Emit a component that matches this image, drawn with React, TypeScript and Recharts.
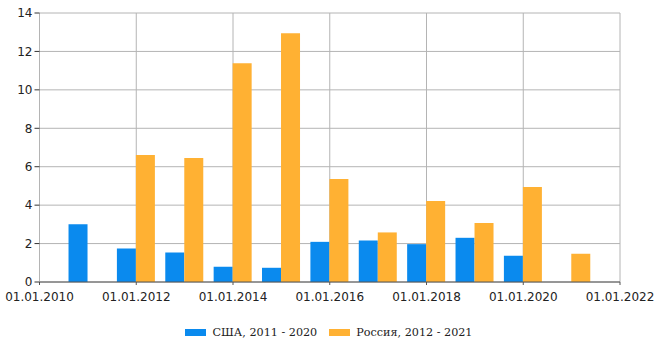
import { Bar, BarChart, CartesianGrid, Legend, XAxis, YAxis } from 'recharts';

// годы начала периодов (ось X — числовая, метки 01.01.ГГГГ)
const YEARS = [2011, 2012, 2013, 2014, 2015, 2016, 2017, 2018, 2019, 2020, 2021];
const USA = [3.0, 1.74, 1.54, 0.79, 0.74, 2.09, 2.16, 1.97, 2.3, 1.37, null];
const RUSSIA = [null, 6.61, 6.45, 11.38, 12.95, 5.36, 2.58, 4.22, 3.07, 4.95, 1.47];

const X_TICKS = [2010, 2012, 2014, 2016, 2018, 2020, 2022];
const Y_TICKS = [0, 2, 4, 6, 8, 10, 12, 14];

const SERIES = [
  { key: 'usa', label: 'США, 2011 - 2020', color: '#0a8aee' },
  { key: 'russia', label: 'Россия, 2012 - 2021', color: '#ffb133' },
];

const rows = YEARS.map((year, i) => ({ year, usa: USA[i], russia: RUSSIA[i] }));

const tick = { fill: '#222', fontSize: 12, fontFamily: '"DejaVu Sans", sans-serif' };

function LegendBox() {
  return (
    <div
      style={{
        height: 32,
        width: 658,
        display: 'flex',
        justifyContent: 'center',
        alignItems: 'center',
        paddingTop: 8,
        boxSizing: 'border-box',
        fontFamily: '"DejaVu Serif", serif',
        fontSize: 11.2,
        color: '#222',
        gap: 12,
      }}
    >
      {SERIES.map((s) => (
        <span key={s.key} style={{ display: 'flex', alignItems: 'center', gap: 6 }}>
          <span style={{ display: 'inline-block', width: 21, height: 7, background: s.color }} />
          {s.label}
        </span>
      ))}
    </div>
  );
}

export default function App() {
  return (
    <div style={{ position: 'absolute', left: 0, top: 0, width: 658, height: 344, background: '#fff' }}>
      <BarChart
        width={658}
        height={344}
        data={rows}
        margin={{ top: 13, right: 38, bottom: 0, left: 0 }}
        barGap={0}
        barCategoryGap="10%"
      >
        <CartesianGrid stroke="#b4b4b4" />
        <XAxis
          dataKey="year"
          type="number"
          domain={[2010, 2022]}
          ticks={X_TICKS}
          tickFormatter={(v: number) => `01.01.${v}`}
          tick={tick}
          tickSize={3}
          tickMargin={7}
          height={30}
          stroke="#555"
          interval={0}
          allowDataOverflow
        />
        <YAxis
          domain={[0, 14]}
          ticks={Y_TICKS}
          tick={tick}
          tickSize={5}
          tickMargin={2}
          width={39.5}
          axisLine={{ stroke: '#b4b4b4' }}
          tickLine={{ stroke: '#333' }}
          interval={0}
        />
        <Legend
          verticalAlign="bottom"
          height={32}
          wrapperStyle={{ left: 0, width: 658 }}
          content={() => <LegendBox />}
        />
        {SERIES.map((s) => (
          <Bar key={s.key} dataKey={s.key} name={s.label} fill={s.color} isAnimationActive={false} />
        ))}
      </BarChart>
    </div>
  );
}
